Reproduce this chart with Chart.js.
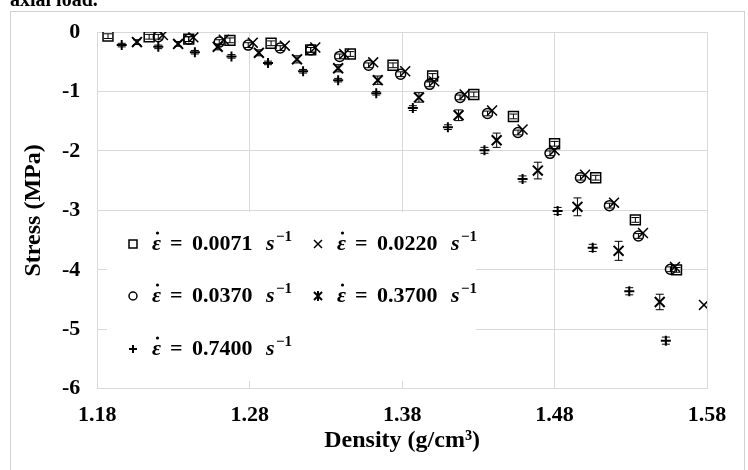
<!DOCTYPE html>
<html><head><meta charset="utf-8">
<script src="https://cdn.jsdelivr.net/npm/chart.js@4.4.0/dist/chart.umd.min.js"></script>
<style>html,body{margin:0;padding:0;background:#fff;}#wrap{width:748px;height:470px;position:relative;}</style>
</head><body><div id="wrap"><canvas id="c" width="748" height="470"></canvas></div>
<script>
// ---- data ----
const rateLabels = ['0.0071', '0.0220', '0.0370', '0.3700', '0.7400'];

const dens0071 = [1.187,1.214,1.240,1.267,1.294,1.320,1.346,1.374,1.400,1.427,1.453,1.480,1.507,1.533,1.560];
const stress0071 = [-0.07,-0.08,-0.12,-0.14,-0.19,-0.30,-0.37,-0.56,-0.74,-1.05,-1.42,-1.88,-2.45,-3.16,-4.00];
const err0071 = [0.04,0.04,0.04,0.04,0.04,0.04,0.04,0.04,0.04,0.04,0.04,0.04,0.04,0.04,0.04];

const dens0220 = [1.223,1.243,1.263,1.282,1.303,1.323,1.342,1.361,1.382,1.401,1.421,1.439,1.459,1.480,1.500,1.519,1.538,1.559,1.578];
const stress0220 = [-0.05,-0.09,-0.13,-0.18,-0.23,-0.26,-0.37,-0.51,-0.66,-0.83,-1.05,-1.32,-1.64,-1.99,-2.40,-2.87,-3.38,-3.95,-4.59];
const err0220 = [0,0,0,0,0,0,0,0,0,0,0,0,0,0,0,0,0,0,0];

const dens0370 = [1.220,1.240,1.260,1.279,1.300,1.320,1.339,1.358,1.379,1.398,1.418,1.436,1.456,1.477,1.497,1.516,1.535,1.556];
const stress0370 = [-0.08,-0.12,-0.17,-0.22,-0.27,-0.30,-0.41,-0.56,-0.71,-0.88,-1.10,-1.37,-1.69,-2.04,-2.45,-2.92,-3.43,-3.99];
const err0370 = [0.04,0.04,0.04,0.04,0.04,0.04,0.04,0.04,0.04,0.04,0.04,0.04,0.04,0.04,0.04,0.04,0.04,0.04];

const dens3700 = [1.206,1.233,1.259,1.286,1.311,1.338,1.364,1.391,1.417,1.442,1.469,1.495,1.522,1.549];
const stress3700 = [-0.17,-0.20,-0.25,-0.35,-0.46,-0.61,-0.81,-1.10,-1.40,-1.82,-2.33,-2.94,-3.68,-4.54];
const err3700 = [0.04,0.04,0.05,0.05,0.06,0.06,0.07,0.08,0.09,0.12,0.14,0.15,0.16,0.13];

const dens7400 = [1.196,1.220,1.244,1.268,1.292,1.315,1.338,1.363,1.387,1.410,1.434,1.459,1.482,1.505,1.529,1.553];
const stress7400 = [-0.22,-0.25,-0.34,-0.41,-0.52,-0.66,-0.81,-1.03,-1.28,-1.60,-1.99,-2.47,-3.01,-3.63,-4.36,-5.19];
const err7400 = [0.03,0.03,0.03,0.03,0.03,0.03,0.03,0.03,0.04,0.04,0.05,0.05,0.06,0.06,0.06,0.06];

const xTickValues = [1.18, 1.28, 1.38, 1.48, 1.58];
const xTickLabels = ['1.18', '1.28', '1.38', '1.48', '1.58'];
const yTickValues = [0, -1, -2, -3, -4, -5, -6];
const yTickLabels = ['0', '-1', '-2', '-3', '-4', '-5', '-6'];

const xTitle = 'Density (g/cm³)';
const yTitle = 'Stress (MPa)';
const topText = 'axial load.';

// ---- build ----
const pts = (xs, ys) => xs.map((x, i) => ({x: x, y: ys[i]}));
const SERIF = "'Liberation Serif', 'Times New Roman', serif";

const styles = [
  {pointStyle: 'rect', pointRadius: 7, borderWidth: 1.5},
  {pointStyle: 'crossRot', pointRadius: 7, borderWidth: 1.5},
  {pointStyle: 'circle', pointRadius: 5, borderWidth: 1.5},
  {pointStyle: 'crossRot', pointRadius: 7, borderWidth: 2},
  {pointStyle: 'cross', pointRadius: 5, borderWidth: 2}
];
const series = [
  [dens0071, stress0071, err0071],
  [dens0220, stress0220, err0220],
  [dens0370, stress0370, err0370],
  [dens3700, stress3700, err3700],
  [dens7400, stress7400, err7400]
];

const datasets = series.map((s, i) => ({
  label: rateLabels[i],
  data: pts(s[0], s[1]),
  errors: s[2],
  pointStyle: styles[i].pointStyle,
  pointRadius: styles[i].pointRadius,
  pointHoverRadius: styles[i].pointRadius,
  pointBorderWidth: styles[i].borderWidth,
  borderColor: '#000',
  backgroundColor: 'rgba(0,0,0,0)',
  showLine: false
}));

function drawMarker(ctx, style, x, y) {
  ctx.save();
  ctx.strokeStyle = '#000';
  ctx.lineWidth = 1.5;
  ctx.beginPath();
  if (style === 'rect') { ctx.rect(x - 4, y - 4, 8, 8); }
  else if (style === 'circle') { ctx.arc(x, y, 4, 0, Math.PI * 2); }
  else if (style === 'crossRot') { ctx.moveTo(x-4,y-4); ctx.lineTo(x+4,y+4); ctx.moveTo(x+4,y-4); ctx.lineTo(x-4,y+4); }
  else if (style === 'star') { ctx.lineWidth = 2; ctx.moveTo(x-4,y-4); ctx.lineTo(x+4,y+4); ctx.moveTo(x+4,y-4); ctx.lineTo(x-4,y+4); ctx.moveTo(x,y-5); ctx.lineTo(x,y+5); }
  else if (style === 'cross') { ctx.lineWidth = 2; ctx.moveTo(x-4,y); ctx.lineTo(x+4,y); ctx.moveTo(x,y-4); ctx.lineTo(x,y+4); }
  ctx.stroke();
  ctx.restore();
}

function drawRateText(ctx, x, baseline, value) {
  ctx.save();
  ctx.fillStyle = '#000';
  ctx.textAlign = 'left';
  ctx.textBaseline = 'alphabetic';
  ctx.font = "italic bold 22px " + SERIF;
  ctx.fillText('ε', x, baseline);
  ctx.beginPath();
  ctx.arc(x + 5.5, baseline - 17, 1.6, 0, Math.PI * 2);
  ctx.fill();
  ctx.font = "bold 22px " + SERIF;
  ctx.fillText('=', x + 18, baseline);
  ctx.fillText(value, x + 40, baseline);
  ctx.font = "italic bold 22px " + SERIF;
  ctx.fillText('s', x + 114, baseline);
  ctx.font = "bold 15px " + SERIF;
  ctx.fillText('\u22121', x + 124, baseline - 9);
  ctx.restore();
}

const customPlugin = {
  id: 'custom',
  beforeDatasetsDraw(chart) {
    const ctx = chart.ctx;
    ctx.save();
    ctx.fillStyle = '#fff';
    ctx.fillRect(107, 212, 369, 169);
    ctx.restore();
  },
  afterDatasetsDraw(chart) {
    const ctx = chart.ctx;
    const xs = chart.scales.x, ys = chart.scales.y;
    ctx.save();
    ctx.strokeStyle = '#000';
    ctx.lineWidth = 1;
    chart.data.datasets.forEach(ds => {
      ds.data.forEach((p, i) => {
        const e = ds.errors[i];
        if (!e) return;
        const px = xs.getPixelForValue(p.x);
        const y1 = ys.getPixelForValue(p.y + e);
        const y2 = ys.getPixelForValue(p.y - e);
        ctx.beginPath();
        ctx.moveTo(px, y1); ctx.lineTo(px, y2);
        ctx.moveTo(px - 4, y1); ctx.lineTo(px + 4, y1);
        ctx.moveTo(px - 4, y2); ctx.lineTo(px + 4, y2);
        ctx.stroke();
      });
    });
    ctx.restore();
  },
  afterDraw(chart) {
    const ctx = chart.ctx;
    ctx.save();
    ctx.strokeStyle = '#d0d0d0';
    ctx.lineWidth = 1;
    ctx.strokeRect(10.5, 11.5, 734, 470);
    ctx.restore();
    ctx.save();
    ctx.fillStyle = '#000';
    ctx.font = "bold 20px " + SERIF;
    ctx.textBaseline = 'alphabetic';
    ctx.fillText(topText, 10, 6);
    ctx.restore();
    const markerStyles = ['rect', 'crossRot', 'circle', 'star', 'cross'];
    const cols = [133, 318];
    const rows = [250, 302, 355];
    rateLabels.forEach((lab, i) => {
      const cx = cols[i % 2];
      const by = rows[Math.floor(i / 2)];
      drawMarker(ctx, markerStyles[i], cx, by - 6);
      drawRateText(ctx, cx + 19, by, lab);
    });
  }
};

new Chart(document.getElementById('c'), {
  type: 'scatter',
  data: { datasets: datasets },
  options: {
    responsive: false,
    animation: false,
    devicePixelRatio: 1,
    layout: { padding: { left: 10, right: 41, top: 32, bottom: 15 } },
    plugins: { legend: { display: false }, tooltip: { enabled: false } },
    scales: {
      x: {
        type: 'linear',
        min: 1.18, max: 1.58,
        afterBuildTicks: (scale) => { scale.ticks = xTickValues.map(v => ({ value: v })); },
        ticks: {
          autoSkip: false, maxRotation: 0, padding: 13, color: '#000',
          font: { family: SERIF, weight: 'bold', size: 22 },
          callback: (v) => xTickLabels[xTickValues.indexOf(v)]
        },
        grid: { color: '#d9d9d9', drawTicks: false },
        border: { color: '#d9d9d9' },
        title: { display: true, text: xTitle, color: '#000', font: { family: SERIF, weight: 'bold', size: 24 }, padding: { top: -15, bottom: 0 } }
      },
      y: {
        type: 'linear',
        min: -6, max: 0,
        afterBuildTicks: (scale) => { scale.ticks = yTickValues.map(v => ({ value: v })); },
        ticks: {
          padding: 17, color: '#000',
          font: { family: SERIF, weight: 'bold', size: 22 },
          callback: (v) => yTickLabels[yTickValues.indexOf(v)]
        },
        grid: { color: '#d9d9d9', drawTicks: false },
        border: { color: '#d9d9d9' },
        title: { display: true, text: yTitle, color: '#000', font: { family: SERIF, weight: 'bold', size: 24 }, padding: { top: 9.6, bottom: -3.4 } }
      }
    }
  },
  plugins: [customPlugin]
});
</script>
</body></html>
